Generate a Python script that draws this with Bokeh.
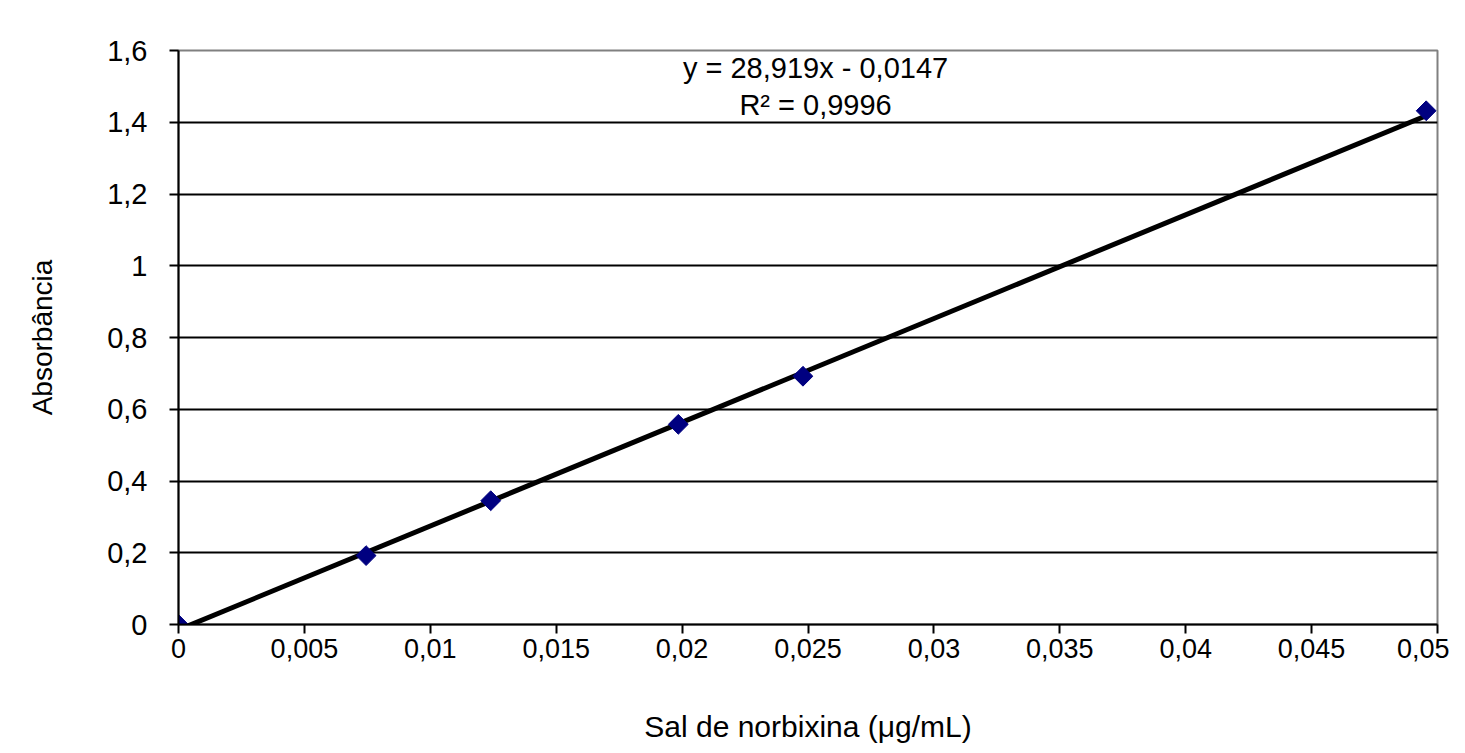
from bokeh.plotting import figure
from bokeh.models import FixedTicker, Label, Range1d
from bokeh.embed import file_html
from bokeh.resources import INLINE
import math

# data
conc = [0.0, 0.00745, 0.01240, 0.01985, 0.02480, 0.04955]
absorb = [0.0, 0.192, 0.345, 0.558, 0.692, 1.432]
slope = 28.919
intercept = -0.0147
x_ticks = [0, 0.005, 0.01, 0.015, 0.02, 0.025, 0.03, 0.035, 0.04, 0.045, 0.05]
x_tick_labels = ["0", "0,005", "0,01", "0,015", "0,02", "0,025", "0,03", "0,035", "0,04", "0,045", "0,05"]
y_ticks = [0, 0.2, 0.4, 0.6, 0.8, 1.0, 1.2, 1.4, 1.6]
y_tick_labels = ["0", "0,2", "0,4", "0,6", "0,8", "1", "1,2", "1,4", "1,6"]
eq_text = "y = 28,919x - 0,0147"
r2_text = "R² = 0,9996"

FONT = "Liberation Sans"

p = figure(width=1449, height=745, output_backend="svg", toolbar_location=None,
           x_range=Range1d(0, 0.05), y_range=Range1d(0, 1.6),
           min_border_left=178, min_border_right=12, min_border_top=50, min_border_bottom=120)

p.background_fill_color = "white"
p.border_fill_color = "white"
p.outline_line_color = "#808080"
p.outline_line_width = 2

# grid
p.xgrid.visible = False
p.ygrid.ticker = FixedTicker(ticks=y_ticks[1:-1])
p.ygrid.grid_line_color = "black"
p.ygrid.grid_line_width = 2

# axes
for ax in (p.xaxis[0], p.yaxis[0]):
    ax.axis_line_color = "black"
    ax.axis_line_width = 2
    ax.major_tick_line_color = "black"
    ax.major_tick_line_width = 2
    ax.minor_tick_line_color = None
    ax.major_tick_in = 0
    ax.major_tick_out = 9
    ax.major_label_text_font = FONT
    ax.major_label_text_color = "black"
    ax.axis_label_text_font = FONT
    ax.axis_label_text_font_style = "normal"
    ax.axis_label_text_color = "black"

p.xaxis.major_label_text_font_size = "27px"
p.yaxis.major_label_text_font_size = "29px"
p.xaxis.axis_label_text_font_size = "30px"
p.yaxis.axis_label_text_font_size = "28px"

p.xaxis.ticker = FixedTicker(ticks=x_ticks)
p.xaxis.major_label_overrides = {t: l for t, l in zip(x_ticks, x_tick_labels)}
p.yaxis.ticker = FixedTicker(ticks=y_ticks)
p.yaxis.major_label_overrides = {t: l for t, l in zip(y_ticks, y_tick_labels)}
p.xaxis.major_label_standoff = 5
p.yaxis.major_label_standoff = 22
p.xaxis.axis_label = "Sal de norbixina (μg/mL)"
p.yaxis.axis_label = "Absorbância"
p.xaxis.axis_label_standoff = 49
p.yaxis.axis_label_standoff = 46

# trend line
x0, x1 = 0.0, max(conc)
p.line([x0, x1], [slope * x0 + intercept, slope * x1 + intercept], line_color="black", line_width=5)

# points
p.scatter(conc, absorb, marker="square", size=14, angle=math.pi / 4,
          fill_color="#000080", line_color="#000080")

# equation
p.add_layout(Label(x=0.0253, y=1.55, text=eq_text, text_align="center", text_baseline="middle",
                   text_font=FONT, text_font_size="29px", text_color="black"))
p.add_layout(Label(x=0.0253, y=1.447, text=r2_text, text_align="center", text_baseline="middle",
                   text_font=FONT, text_font_size="29px", text_color="black"))

open("out.html", "w").write(file_html(p, INLINE))
